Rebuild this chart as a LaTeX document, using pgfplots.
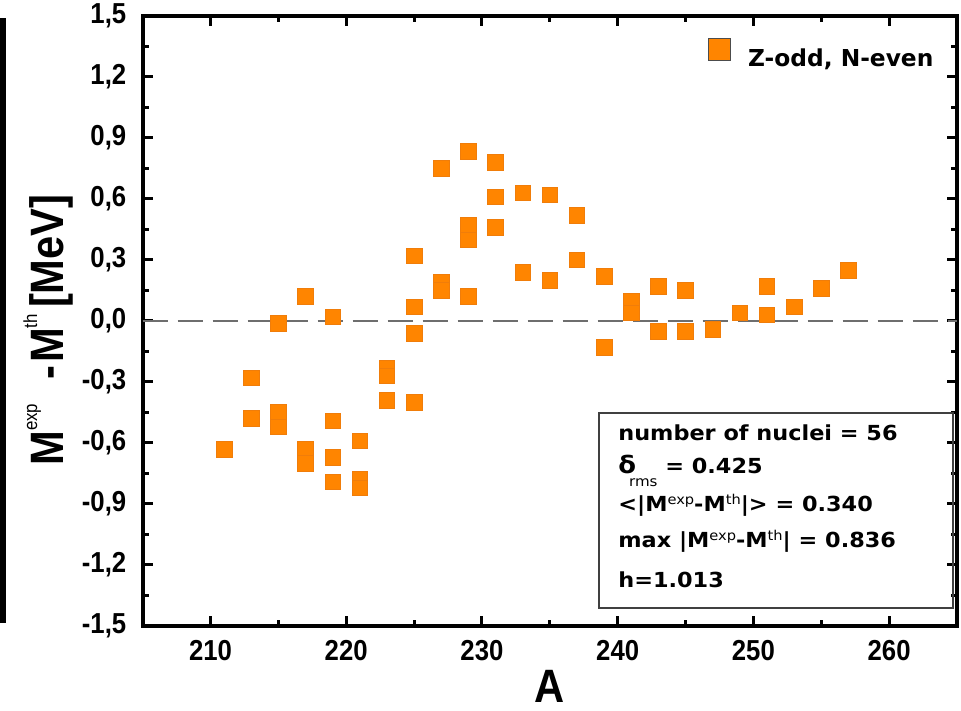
\documentclass[border=0pt]{standalone}
\usepackage{pgfplots}
\pgfplotsset{compat=1.18}
\usepackage{fontspec}
\setmainfont{Liberation Sans}
\newfontfamily\narrowfont{Liberation Sans}[FakeStretch=0.89]
\newfontfamily\boxfont{DejaVu Sans}[FakeStretch=1.08]
\newfontfamily\legfont{DejaVu Sans}
\definecolor{myorange}{RGB}{255,133,0}
\definecolor{myedge}{RGB}{240,125,10}
\newcommand\labsup[1]{\raisebox{13bp}{\fontsize{9.5}{9.5}\selectfont\mdseries #1}}
\newcommand\bsup[1]{\raisebox{3.8bp}{\fontsize{6.8}{6.8}\selectfont\mdseries #1}}
\newcommand\boxf{\fontsize{10.4}{12}\selectfont\boxfont\bfseries}
\begin{document}
\begin{tikzpicture}
\begin{axis}[
  at={(0,0)}, anchor=south west,
  scale only axis, width=407.2bp, height=305bp,
  xmin=205, xmax=265, ymin=-1.5, ymax=1.5,
  xtick={210,220,230,240,250,260},
  xticklabels={210,220,230,240,250,260},
  minor x tick num=1,
  ytick={-1.5,-1.2,-0.9,-0.6,-0.3,0,0.3,0.6,0.9,1.2,1.5},
  yticklabels={{-1,5},{-1,2},{-0,9},{-0,6},{-0,3},{0,0},{0,3},{0,6},{0,9},{1,2},{1,5}},
  minor y tick num=1,
  tick align=inside, xtick pos=both, ytick pos=both,
  major tick length=5bp, minor tick length=3bp,
  every tick/.append style={black, line width=1.5bp},
  axis line style={line width=2bp},
  tick label style={font=\narrowfont\bfseries\fontsize{14.5}{14.5}\selectfont},
  xticklabel style={anchor=north, inner sep=0pt, yshift=-7bp},
  yticklabel style={anchor=east, inner sep=0pt, xshift=-8bp},
  every axis x label/.style={at={(axis description cs:0.5,-0.1246)}, anchor=base, inner sep=0pt, font=\narrowfont\bfseries\fontsize{23.5}{23.5}\selectfont},
  every axis y label/.style={at={(axis description cs:-0.0977,0.4852)}, anchor=base, rotate=90, inner sep=0pt, font=\narrowfont\bfseries\fontsize{23.5}{23.5}\selectfont},
  xlabel={A},
  ylabel={M\labsup{exp}\hspace{12bp}-\kern1.5bp M\labsup{th}\kern3bp[MeV]},
  clip=false,
  legend style={at={(axis description cs:0.6943,0.938)}, anchor=west, draw=none, fill=none, inner sep=0pt, outer sep=0pt,
    nodes={inner sep=0pt, font=\legfont\bfseries\fontsize{11.7}{11.7}\selectfont},
    /tikz/every odd column/.append style={column sep=8.5bp}},
  legend cell align=left,
  legend image code/.code={\draw[fill=myorange, draw=black!70, line width=0.6bp] (0bp,-0.5bp) rectangle (11bp,10.5bp);},
]
\addplot[color={rgb,255:red,110;green,110;blue,110}, line width=0.75bp, dash pattern=on 12.5bp off 5bp, forget plot] coordinates {(205,0) (265,0)};
\addplot[only marks, mark=square*, mark size=3.9bp, mark options={fill=myorange, draw=myedge, line width=0.3bp}] table {
x y
211 -0.63
213 -0.28
213 -0.48
215 -0.01
215 -0.45
215 -0.52
217 0.12
217 -0.63
217 -0.70
219 0.02
219 -0.49
219 -0.67
219 -0.79
221 -0.59
221 -0.78
221 -0.82
223 -0.23
223 -0.27
223 -0.39
225 0.32
225 0.07
225 -0.06
225 -0.40
227 0.75
227 0.19
227 0.15
229 0.836
229 0.47
229 0.40
229 0.12
231 0.78
231 0.61
231 0.46
233 0.63
233 0.24
235 0.62
235 0.20
237 0.52
237 0.30
239 0.22
239 -0.13
241 0.10
241 0.04
243 0.17
243 -0.05
245 0.15
245 -0.05
247 -0.04
249 0.04
251 0.17
251 0.03
253 0.07
255 0.16
257 0.25
};
\addlegendentry{Z-odd, N-even}
\draw[line width=0.8bp, black!75] (axis description cs:0.5604,0.0295) rectangle (axis description cs:0.9951,0.3492);
\node[anchor=base west, inner sep=0pt, font=\boxf] at (axis description cs:0.5837,0.3049) {number of nuclei = 56};
\node[anchor=base west, inner sep=0pt, font=\boxf] at (axis description cs:0.5837,0.2492) {{\fontsize{12}{12}\selectfont δ}\kern-3.5bp\raisebox{-6.5bp}{\fontsize{7}{7}\selectfont\mdseries rms} = 0.425};
\node[anchor=base west, inner sep=0pt, font=\boxf] at (axis description cs:0.5837,0.1869) {<|M\bsup{exp}-M\bsup{th}|> = 0.340};
\node[anchor=base west, inner sep=0pt, font=\boxf] at (axis description cs:0.5837,0.1279) {max |M\bsup{exp}-M\bsup{th}| = 0.836};
\node[anchor=base west, inner sep=0pt, font=\boxf] at (axis description cs:0.5837,0.0639) {h=1.013};
\end{axis}
\draw[line width=3bp] (-69.8bp,1.5bp) -- (-69.8bp,304bp);
\pgfresetboundingbox
\useasboundingbox (-71.3bp,-42.5bp) rectangle (409.2bp,313bp);
\end{tikzpicture}
\end{document}
